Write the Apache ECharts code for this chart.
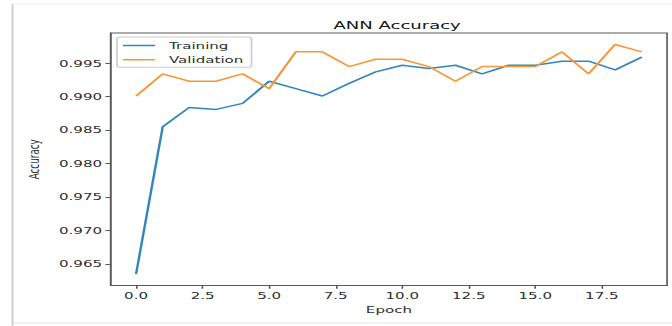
<!DOCTYPE html>
<html>
<head>
<meta charset="utf-8">
<script src="https://cdn.jsdelivr.net/npm/echarts@6/dist/echarts.min.js"></script>
<style>
  html, body { margin: 0; padding: 0; background: #ffffff; overflow: hidden; }
  #wrap { width: 672px; height: 326px; overflow: hidden; position: relative; }
  /* the figure is laid out narrow and stretched horizontally to the page width */
  #chart { width: 410px; height: 326px; transform: scaleX(1.639); transform-origin: 0 0; }
</style>
</head>
<body>
<div id="wrap"><div id="chart"></div></div>
<script>
// Accuracy per epoch
const epochs = [0, 1, 2, 3, 4, 5, 6, 7, 8, 9, 10, 11, 12, 13, 14, 15, 16, 17, 18, 19];
const training = [0.9635, 0.9855, 0.9884, 0.9881, 0.9890, 0.9923, 0.9912, 0.9901, 0.9920, 0.9937,
                  0.9947, 0.9942, 0.9947, 0.9934, 0.9947, 0.9947, 0.9953, 0.9953, 0.9940, 0.9959];
const validation = [0.9901, 0.9934, 0.9923, 0.9923, 0.9934, 0.9912, 0.9967, 0.9967, 0.9945, 0.9956,
                    0.9956, 0.9945, 0.9923, 0.9945, 0.9945, 0.9945, 0.9967, 0.9934, 0.9978, 0.9967];
const xTicks = [0, 2.5, 5, 7.5, 10, 12.5, 15, 17.5];
const yTicks = [0.965, 0.970, 0.975, 0.980, 0.985, 0.990, 0.995];
const seriesNames = ['Training', 'Validation'];

// 5% padding around the data range on both axes
function padded(values) {
  const lo = Math.min(...values), hi = Math.max(...values);
  const m = (hi - lo) * 0.05;
  return [lo - m, hi + m];
}
const [xMin, xMax] = padded(epochs);
const [yMin, yMax] = padded(training.concat(validation));

const FONT = 'DejaVu Sans';
const TEXT = '#2e2e2e';
const SPINE = '#5a5a5a';

const chart = echarts.init(document.getElementById('chart'), null, { renderer: 'svg' });
chart.setOption({
  animation: false,
  backgroundColor: '#ffffff',
  title: {
    text: 'ANN Accuracy',
    left: 237.3,
    textAlign: 'center',
    top: 15,
    textStyle: { fontFamily: FONT, fontSize: 11, fontWeight: 'normal', color: '#151515' }
  },
  legend: {
    orient: 'vertical',
    left: 71.4,
    top: 37,
    data: seriesNames,
    icon: 'rect',
    itemWidth: 19.6,
    itemHeight: 1.5,
    itemGap: 3.3,
    padding: [3, 5, 2, 3.6],
    borderColor: '#cccccc',
    borderWidth: 1,
    borderRadius: 2,
    backgroundColor: '#ffffff',
    textStyle: { fontFamily: FONT, fontSize: 9.2, color: TEXT, lineHeight: 11, padding: [0, 0, 0, 3.5] }
  },
  grid: { left: 67.6, right: 3, top: 33, bottom: 40.5, show: true, borderColor: SPINE, borderWidth: 1 },
  xAxis: {
    type: 'value',
    min: xMin,
    max: xMax,
    name: 'Epoch',
    nameLocation: 'middle',
    nameGap: 18.5,
    nameTextStyle: { fontFamily: FONT, fontSize: 9.2, color: TEXT },
    splitLine: { show: false },
    axisLine: { show: true, onZero: false, lineStyle: { color: SPINE, width: 1 } },
    axisTick: { show: true, customValues: xTicks, length: 3.3, lineStyle: { color: SPINE } },
    axisLabel: {
      customValues: xTicks,
      margin: 6,
      fontFamily: FONT, fontSize: 9.2, color: TEXT,
      formatter: v => Number(v).toFixed(1)
    }
  },
  yAxis: {
    type: 'value',
    min: yMin,
    max: yMax,
    name: 'Accuracy',
    nameLocation: 'middle',
    nameGap: 37,
    nameRotate: 90,
    nameTextStyle: { fontFamily: FONT, fontSize: 8.8, color: TEXT },
    splitLine: { show: false },
    axisLine: { show: true, onZero: false, lineStyle: { color: SPINE, width: 1 } },
    axisTick: { show: true, customValues: yTicks, length: 3.3, lineStyle: { color: SPINE } },
    axisLabel: {
      customValues: yTicks,
      margin: 5.3,
      fontFamily: FONT, fontSize: 9.2, color: TEXT,
      formatter: v => Number(v).toFixed(3)
    }
  },
  series: [
    {
      name: seriesNames[0],
      type: 'line',
      data: epochs.map((e, i) => [e, training[i]]),
      symbol: 'none',
      lineStyle: { color: '#3585c0', width: 1.5 },
      itemStyle: { color: '#3585c0' },
      z: 2
    },
    {
      name: seriesNames[1],
      type: 'line',
      data: epochs.map((e, i) => [e, validation[i]]),
      symbol: 'none',
      lineStyle: { color: '#f6983c', width: 1.5 },
      itemStyle: { color: '#f6983c' },
      z: 3
    }
  ],
  // thin page frame around the figure
  graphic: [
    { type: 'line', shape: { x1: 7.6, y1: 4, x2: 410, y2: 4 }, style: { stroke: '#ececec', lineWidth: 1 }, silent: true },
    { type: 'line', shape: { x1: 7.6, y1: 323, x2: 410, y2: 323 }, style: { stroke: '#e4e4e4', lineWidth: 1 }, silent: true },
    { type: 'line', shape: { x1: 7.6, y1: 4, x2: 7.6, y2: 326 }, style: { stroke: '#cfcfcf', lineWidth: 1.2 }, silent: true }
  ]
});
</script>
</body>
</html>
